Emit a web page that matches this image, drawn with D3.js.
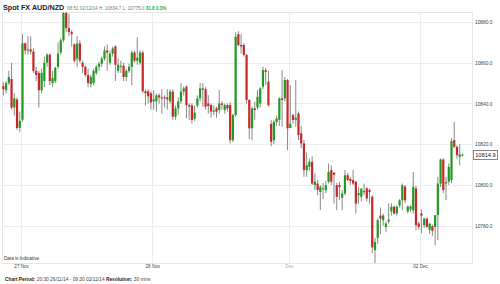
<!DOCTYPE html>
<html>
<head>
<meta charset="utf-8">
<script src="https://cdn.jsdelivr.net/npm/d3@7"></script>
<style>
  body { margin: 0; background: #fff; }
  svg { display: block; font-family: "Liberation Sans", Arial, sans-serif; }
</style>
</head>
<body>
<svg id="chart" width="500" height="284"></svg>
<script>
// 30 min candles, AUD/NZD, 26/11/14 20:30 -> 02/12/14 08:30
const opens = [10848.5,10846.6,10850,10852,10838,10842,10828,10832,10869.5,10866,10866.5,10865.5,10856,10855,10846.5,10851,10860,10864,10850,10851,
  10858,10865,10871,10884.4,10877,10875,10869,10862,10869.5,10860,10858,10854,10849.5,10850,10855,10858,10859.5,10862,10866,10860,
  10864.5,10868,10856,10858,10858.5,10853,10856,10858,10865,10861,10860,10865,10846,10846,10845,10841,10841,10844,10843,10843,
  10843,10841,10845.8,10833.5,10837.6,10841,10845.8,10848.2,10839.2,10839,10832.5,10839,10842.5,10847.4,10847,10840,10839.2,10836,10837.6,10836.8,
  10840,10836.8,10839.2,10839.2,10822,10834.3,10874,10868.7,10868.7,10863.8,10841.7,10827.8,10837.6,10838,10840,10848.2,10856.4,10850.7,10830,10822,
  10831,10832,10842.5,10842.5,10851.5,10828,10834.3,10832,10835.1,10825.3,10820.4,10807.3,10808.9,10811.4,10800,10800.7,10796.6,10798,10797.5,10801.6,
  10807.3,10806,10799.9,10800,10793.7,10795.8,10804.8,10803,10802.4,10801.6,10795,10794.2,10797,10798.3,10797.5,10794.2,10768,10774,10785,10782.7,
  10779.4,10782,10787,10789.3,10786,10790,10792.5,10799.1,10787,10788,10787.6,10798.3,10781.1,10786,10780.3,10783.5,10778,10779.8,10779.4,10785.2,
  10800.7,10812.5,10800.7,10801.6,10802.4,10822,10818.7,10813.8,10814.6];
const highs = [10850.5,10851,10856,10860,10845,10843,10836,10874,10870,10873,10873,10867,10858,10856,10857,10863,10864.5,10864.5,10856,10858,
  10870,10872,10884.9,10884.9,10884,10876,10869.5,10873,10871,10861,10858.5,10857,10854,10857,10859,10860.5,10863,10868,10869,10866,
  10868,10868.5,10862,10861,10860,10857,10859.5,10866,10866,10872.5,10866,10866,10847,10847,10846,10846.5,10845,10845,10847,10844,
  10847,10847,10847,10839,10843,10850,10848.5,10849,10840,10840,10839,10844,10850,10850,10848,10844,10840,10839,10838.4,10846.6,
  10841,10840,10840,10840.5,10835,10875,10875.5,10874,10869.5,10864.5,10842,10838.5,10841,10846.6,10848,10858,10857.5,10856,10832,10832,
  10834,10843,10856.4,10853,10852,10849,10835,10851.5,10836,10829,10822,10816,10813,10814,10805.6,10802.4,10800,10801,10802,10810.5,
  10809.7,10806.4,10801,10801.5,10797.5,10807.3,10806,10804,10807.3,10802,10799,10798,10800.7,10799,10798.3,10795,10774,10783.5,10789,10786,
  10782,10790.9,10791,10790,10790,10793,10800.7,10800,10790,10790,10806.4,10799.5,10782,10788,10784,10784,10781,10780.5,10785.2,10804,
  10813,10813,10804,10810.5,10823,10831,10819.5,10820,10815.5];
const lows = [10844,10845,10849,10837,10834,10827,10826,10831,10864,10864,10864,10855,10851,10838,10845,10848,10858,10849,10848,10850,
  10857,10864,10870,10875,10873,10868,10860,10858,10860,10855,10853,10848,10848,10849,10854,10856,10858,10861,10856,10859,
  10863,10851,10855,10855,10851,10851,10855,10849,10860,10859,10859,10845,10839,10840,10837,10837,10836,10840,10835,10838,
  10837,10840,10832,10832,10834.5,10840,10844,10832.7,10831.9,10830.2,10831.5,10838,10841,10838.4,10837,10835,10833,10834.3,10833,10835,
  10837,10835,10836,10820.4,10821,10833.5,10868,10864.6,10863,10840,10822.5,10822,10832,10837,10838,10847,10849,10838.4,10819,10820,
  10829,10829,10828.6,10841,10817.1,10828,10830,10828.6,10822,10818,10804,10804,10807,10799.9,10797.5,10795,10787.6,10793,10796,10800.7,
  10800,10790.9,10787.6,10792.5,10787.6,10795,10802,10800,10800,10786,10790.9,10792,10795,10792,10790.9,10766.5,10761.7,10771,10776,10780,
  10777,10781,10785,10785.5,10785,10789,10787.6,10791,10786,10787,10786,10777.8,10778,10776.2,10779,10779,10776,10775,10770.4,10773,
  10799,10796,10792.5,10800,10801,10818,10813,10809.7,10814];
const closes = [10847,10850,10853,10838,10842.5,10828,10831.5,10869.5,10866,10866.5,10865.5,10856,10854,10846.5,10855,10860,10864,10851,10852.5,10857.5,
  10864.5,10871,10884.4,10877,10875,10874,10861,10869.5,10861,10858,10854,10850,10853,10856,10858,10859.5,10862,10866,10865,10864.5,
  10867,10859,10859,10858.5,10853,10856,10858,10865,10861,10862.5,10865,10846,10845,10843.5,10840.5,10842,10844,10843,10842.5,10842.5,
  10842,10845.8,10833.5,10837.6,10841,10845.8,10847.4,10839.2,10838.5,10831.9,10835.5,10842.5,10847.4,10846.8,10838.4,10838.8,10836,10836.6,10836,10840,
  10839.3,10839.2,10837.6,10822,10834.3,10872.8,10868.7,10868,10863.8,10841.7,10827.8,10837.6,10836.8,10843.3,10847.4,10856.4,10855.5,10839.2,10821.2,10831,
  10832.7,10842.5,10841.7,10851.5,10827.8,10830,10831.9,10833,10824.5,10820.4,10807.3,10809.7,10811.4,10800.7,10801.6,10797.5,10799.1,10798.3,10799.9,10806.4,
  10801.6,10805,10794.2,10799,10795.8,10804.8,10802.4,10802,10800.7,10790.9,10796,10798.3,10796.5,10793.4,10796.6,10769.4,10772,10782.7,10783.5,10785,
  10781.1,10783,10789.3,10786,10789.3,10792.5,10799.9,10792.5,10789.3,10789.5,10799.1,10780.3,10779.4,10785,10783.5,10779.4,10781.1,10777.5,10785.2,10800.7,
  10812.5,10797.5,10801.5,10808.9,10821.5,10818.7,10814.6,10815,10814.9];

const slotCount = 172;
const dayLabels = ["27 Nov", "28 Nov", "Dec", "02 Dec"];
const daySlots = [7, 55, 105, 153];
const priceTicks = [10780, 10800, 10820, 10840, 10860, 10880];
const lastPrice = 10814.9;

const plotLeft = 2, plotRight = 472, plotTop = 12, plotBottom = 263;
const upColor = "#1f9a1f";
const downColor = "#c62828";

const svg = d3.select("#chart");

const x = d3.scaleLinear().domain([0, slotCount]).range([plotLeft, plotRight]);
const y = d3.scaleLinear()
            .domain([d3.min(lows), d3.max(highs)])
            .range([plotBottom, plotTop]);

// grid
svg.append("g").selectAll("line")
   .data(priceTicks)
   .join("line")
   .attr("x1", plotLeft).attr("x2", plotRight)
   .attr("y1", d => Math.round(y(d)) + 0.5)
   .attr("y2", d => Math.round(y(d)) + 0.5)
   .attr("stroke", "#ededed");

svg.append("g").selectAll("line")
   .data(daySlots)
   .join("line")
   .attr("x1", d => Math.round(x(d)) + 0.5)
   .attr("x2", d => Math.round(x(d)) + 0.5)
   .attr("y1", plotTop).attr("y2", plotBottom)
   .attr("stroke", "#ededed");

svg.append("rect")
   .attr("x", plotLeft + 0.5).attr("y", plotTop + 0.5)
   .attr("width", plotRight - plotLeft).attr("height", plotBottom - plotTop)
   .attr("fill", "none")
   .attr("stroke", "#e6e6e6");

// candles
const n = Math.min(opens.length, highs.length, lows.length, closes.length);
const candles = d3.range(n).map(i => ({
    i: i, o: opens[i], h: highs[i], l: lows[i], c: closes[i]
}));

const g = svg.append("g");

g.selectAll("line.wick")
 .data(candles)
 .join("line")
 .attr("class", "wick")
 .attr("x1", d => x(d.i + 0.5))
 .attr("x2", d => x(d.i + 0.5))
 .attr("y1", d => y(d.h))
 .attr("y2", d => y(d.l))
 .attr("stroke", "#7a7a7a")
 .attr("stroke-width", 0.9);

g.selectAll("rect.body")
 .data(candles)
 .join("rect")
 .attr("class", "body")
 .attr("x", d => x(d.i + 0.5) - 1.1)
 .attr("width", 2.2)
 .attr("y", d => y(Math.max(d.o, d.c)))
 .attr("height", d => Math.max(1, Math.abs(y(d.o) - y(d.c))))
 .attr("fill", d => d.c >= d.o ? upColor : downColor);

// right price axis
const rightAxis = d3.axisRight(y)
                    .tickValues(priceTicks)
                    .tickFormat(d3.format(".1f"))
                    .tickSize(0)
                    .tickPadding(3);

const ra = svg.append("g")
   .attr("transform", "translate(" + plotRight + ",0)")
   .call(rightAxis);
ra.select(".domain").remove();
ra.selectAll("text")
  .attr("font-size", "4.8px")
  .attr("font-family", "Liberation Sans, Arial, sans-serif")
  .attr("fill", "#444");

// bottom date axis
const bottomAxis = d3.axisBottom(x)
                     .tickValues(daySlots)
                     .tickFormat((d, i) => dayLabels[i])
                     .tickSize(0)
                     .tickPadding(2);

const ba = svg.append("g")
   .attr("transform", "translate(0," + plotBottom + ")")
   .call(bottomAxis);
ba.select(".domain").remove();
ba.selectAll("text")
  .attr("font-size", "4.6px")
  .attr("font-family", "Liberation Sans, Arial, sans-serif")
  .attr("fill", (d, i) => dayLabels[i] == "Dec" ? "#aaa" : "#444");

// last price box
svg.append("rect")
   .attr("x", plotRight + 1.5)
   .attr("y", Math.round(y(lastPrice)) - 4.5)
   .attr("width", 24)
   .attr("height", 9)
   .attr("fill", "#fff")
   .attr("stroke", "#666")
   .attr("stroke-width", 0.8);

svg.append("text")
   .attr("x", plotRight + 3.2)
   .attr("y", Math.round(y(lastPrice)) + 2.1)
   .attr("font-size", "5.7px")
   .attr("fill", "#222")
   .text(d3.format(".1f")(lastPrice));

// header
svg.append("text")
   .attr("x", 3)
   .attr("y", 10)
   .attr("font-size", "7.2px")
   .attr("font-weight", "bold")
   .attr("fill", "#222")
   .text("Spot FX AUD/NZD");

const info = svg.append("text")
   .attr("x", 67)
   .attr("y", 9.5)
   .attr("font-size", "4.6px")
   .attr("fill", "#777");
info.append("tspan").text("08:51 02/12/14   H: 10834.7  L: 10775.0 ");
info.append("tspan").attr("fill", "#22b322").attr("font-weight", "bold").text("31.8 0.3%");

// footer
svg.append("text")
   .attr("x", 4)
   .attr("y", 260)
   .attr("font-size", "4.6px")
   .attr("fill", "#333")
   .text("Data is Indicative");

const foot = svg.append("text")
   .attr("x", 5)
   .attr("y", 281)
   .attr("font-size", "4.8px")
   .attr("fill", "#444");
foot.append("tspan").attr("font-weight", "bold").attr("fill", "#222").text("Chart Period:");
foot.append("tspan").text(" 20:30 26/11/14 - 09:30 02/12/14    ");
foot.append("tspan").attr("font-weight", "bold").attr("fill", "#222").text("Resolution:");
foot.append("tspan").text(" 30 mins");
</script>
</body>
</html>
